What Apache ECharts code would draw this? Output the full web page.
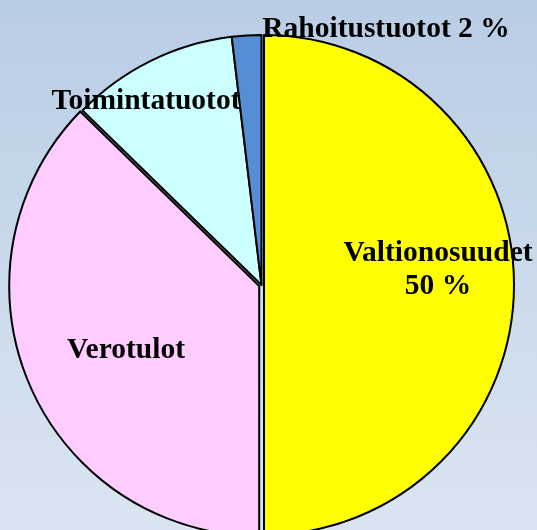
<!DOCTYPE html>
<html>
<head>
<meta charset="utf-8">
<script src="https://cdn.jsdelivr.net/npm/echarts@6/dist/echarts.min.js"></script>
<style>
  html, body { margin: 0; padding: 0; }
  #chart { width: 537px; height: 530px; }
</style>
</head>
<body>
<div id="chart"></div>
<script>
// tulolajit ja osuudet (%)
var names = ['Valtionosuudet', 'Verotulot', 'Toimintatuotot', 'Rahoitustuotot'];
var values = [50, 37.3, 10.8, 1.9];
var labels = ['Valtionosuudet\n50 %', 'Verotulot', 'Toimintatuotot', 'Rahoitustuotot 2 %'];
var colors = ['#ffff00', '#ffccff', '#ccffff', '#558ed5'];

// tekstien paikat kuvassa
var labelPos = [[438, 270], [126, 350], [146, 101], [386, 29]];

var chart = echarts.init(document.getElementById('chart'));

var pieData = [];
var labelData = [];
for (var i = 0; i < names.length; i++) {
  pieData.push({
    name: names[i],
    value: values[i],
    selected: i < 2,
    itemStyle: { color: colors[i] }
  });
  labelData.push({
    name: names[i],
    value: values[i],
    label: { formatter: labels[i] }
  });
}

var center = [261.5, 285];

chart.setOption({
  backgroundColor: new echarts.graphic.LinearGradient(0, 0, 0, 1, [
    { offset: 0, color: '#b9cde5' },
    { offset: 1, color: '#dbe5f1' }
  ]),
  animation: false,
  series: [{
    // sektorit
    type: 'pie',
    center: center,
    radius: [0, 250],
    startAngle: 90,
    clockwise: true,
    selectedMode: 'multiple',
    selectedOffset: 2.5,
    itemStyle: {
      borderColor: '#000',
      borderWidth: 2
    },
    label: { show: false },
    labelLine: { show: false },
    emphasis: { disabled: true },
    select: { itemStyle: { borderColor: '#000', borderWidth: 2 } },
    data: pieData
  }, {
    // tekstit
    type: 'pie',
    center: center,
    radius: [0, 250],
    startAngle: 90,
    clockwise: true,
    silent: true,
    selectedMode: false,
    avoidLabelOverlap: false,
    itemStyle: { color: 'transparent', borderWidth: 0 },
    label: {
      show: true,
      position: 'inside',
      fontFamily: '"Liberation Serif", "Times New Roman", serif',
      fontWeight: 'bold',
      fontSize: 29.5,
      lineHeight: 33,
      color: '#000'
    },
    labelLine: { show: false },
    labelLayout: function (params) {
      var p = labelPos[params.dataIndex];
      return { x: p[0], y: p[1], align: 'center', verticalAlign: 'middle' };
    },
    emphasis: { disabled: true },
    data: labelData
  }]
});
</script>
</body>
</html>
